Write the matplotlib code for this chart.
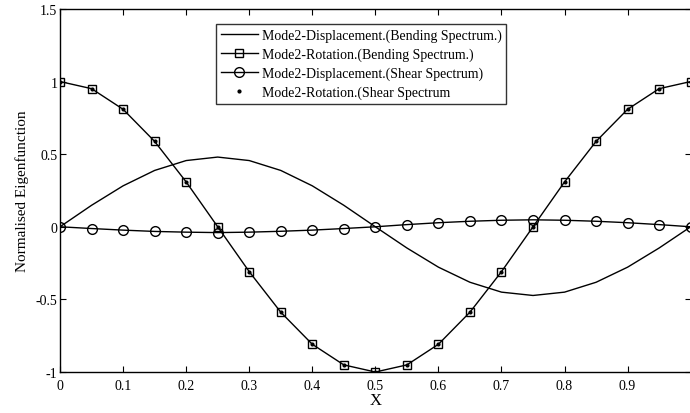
import matplotlib
matplotlib.use("Agg")
import matplotlib.pyplot as plt

plt.rcParams['font.family'] = ['Liberation Serif', 'DejaVu Serif']
plt.rcParams['axes.unicode_minus'] = False

x = [0.00, 0.05, 0.10, 0.15, 0.20, 0.25, 0.30, 0.35, 0.40, 0.45, 0.50,
     0.55, 0.60, 0.65, 0.70, 0.75, 0.80, 0.85, 0.90, 0.95, 1.00]

disp_bending = [0.000, 0.148, 0.282, 0.388, 0.456, 0.480, 0.456, 0.388, 0.282, 0.148, 0.000,
                -0.146, -0.278, -0.382, -0.450, -0.473, -0.450, -0.382, -0.278, -0.146, 0.000]

rot_bending = [1.000, 0.951, 0.809, 0.588, 0.309, 0.000, -0.309, -0.588, -0.809, -0.951, -1.000,
               -0.951, -0.809, -0.588, -0.309, 0.000, 0.309, 0.588, 0.809, 0.951, 1.000]

disp_shear = [0.000, -0.012, -0.023, -0.032, -0.037, -0.040, -0.037, -0.031, -0.023, -0.012, 0.000,
              0.015, 0.028, 0.038, 0.045, 0.048, 0.045, 0.038, 0.028, 0.015, 0.000]

rot_shear = [1.000, 0.951, 0.809, 0.588, 0.309, 0.000, -0.309, -0.588, -0.809, -0.951, -1.000,
             -0.951, -0.809, -0.588, -0.309, 0.000, 0.309, 0.588, 0.809, 0.951, 1.000]

labels = ["Mode2-Displacement.(Bending Spectrum.)",
          "Mode2-Rotation.(Bending Spectrum.)",
          "Mode2-Displacement.(Shear Spectrum)",
          "Mode2-Rotation.(Shear Spectrum"]

xticks = [0, 0.1, 0.2, 0.3, 0.4, 0.5, 0.6, 0.7, 0.8, 0.9]
xticklabels = ["0", "0.1", "0.2", "0.3", "0.4", "0.5", "0.6", "0.7", "0.8", "0.9"]
yticks = [-1, -0.5, 0, 0.5, 1, 1.5]
yticklabels = ["-1", "-0.5", "0", "0.5", "1", "1.5"]

fig = plt.figure(figsize=(6.9, 4.14), dpi=100)
ax = fig.add_axes([0.087, 0.099, 0.914, 0.877])

ax.plot(x, disp_bending, color='black', lw=1.0, label=labels[0])
ax.plot(x, rot_bending, color='black', lw=1.0, marker='s', markersize=6,
        markerfacecolor='none', markeredgewidth=1.0, label=labels[1])
ax.plot(x, disp_shear, color='black', lw=1.0, marker='o', markersize=7,
        markerfacecolor='none', markeredgewidth=1.0, label=labels[2])
ax.plot(x, rot_shear, color='black', lw=0, marker='.', markersize=4,
        label=labels[3])

ax.set_xlim(0, 1)
ax.set_ylim(-1, 1.5)
ax.set_xticks(xticks)
ax.set_xticklabels(xticklabels)
ax.set_yticks(yticks)
ax.set_yticklabels(yticklabels)
ax.tick_params(direction='in', length=4, width=0.8, top=True, right=True,
               labelsize=10)
ax.tick_params(axis='x', pad=5)
ax.tick_params(axis='y', pad=2)
for s in ax.spines.values():
    s.set_linewidth(1.0)

ax.set_xlabel("X", fontsize=12, labelpad=0)
ax.set_ylabel("Normalised Eigenfunction", fontsize=11, labelpad=5)

leg = ax.legend(loc='upper left', bbox_to_anchor=(0.247, 0.959), fontsize=10,
                frameon=True, fancybox=False, edgecolor='black',
                handlelength=2.7, borderpad=0.35, labelspacing=0.4,
                handletextpad=0.25, borderaxespad=0)
leg.get_frame().set_linewidth(1.0)

fig.savefig("out.png", dpi=100)
